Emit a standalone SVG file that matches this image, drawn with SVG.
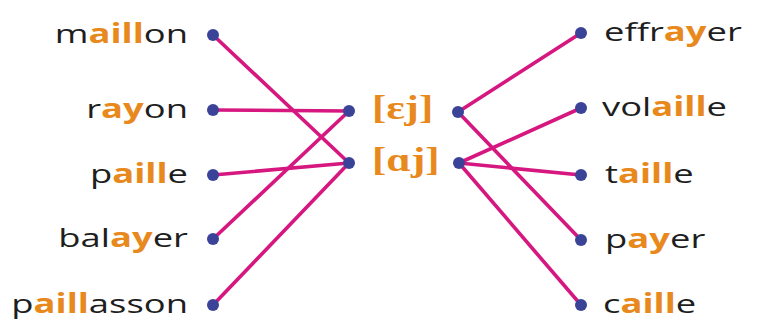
<svg xmlns="http://www.w3.org/2000/svg" width="757" height="327" viewBox="0 0 757 327">
<style>
.w{font-family:"Open Sans","Noto Sans",sans-serif;font-size:26px;fill:#1e1e1e}
.o{fill:#E8891E;font-weight:bold}
.l{text-anchor:end}
.p{font-family:"Liberation Serif","DejaVu Serif",serif;font-size:33px;font-weight:bold;fill:#E8891E}
.d{fill:#3B4398}
.c line{stroke:#D6177F;stroke-width:3.6;stroke-linecap:round}
</style>
<rect width="757" height="327" fill="#fff"/>
<g id="connectors" class="c">
<line x1="213" y1="35" x2="349" y2="163"/>
<line x1="213" y1="110" x2="349" y2="111"/>
<line x1="213" y1="175" x2="349" y2="163"/>
<line x1="213" y1="239" x2="349" y2="111"/>
<line x1="213" y1="305" x2="349" y2="163"/>
<line x1="458" y1="112" x2="581" y2="33"/>
<line x1="458" y1="112" x2="581" y2="240"/>
<line x1="459" y1="163" x2="581" y2="108"/>
<line x1="459" y1="163" x2="581" y2="175"/>
<line x1="459" y1="163" x2="581" y2="305"/>
</g>
<g id="maillon"><text class="w l" transform="translate(188,43) scale(1.4,1)">m<tspan class="o">aill</tspan>on</text><circle class="d" cx="213" cy="35" r="6"/></g>
<g id="rayon"><text class="w l" transform="translate(188,118) scale(1.4,1)">r<tspan class="o">ay</tspan>on</text><circle class="d" cx="213" cy="110" r="6"/></g>
<g id="paille"><text class="w l" transform="translate(188,183) scale(1.4,1)">p<tspan class="o">aill</tspan>e</text><circle class="d" cx="213" cy="175" r="6"/></g>
<g id="balayer"><text class="w l" transform="translate(188,247) scale(1.4,1)">bal<tspan class="o">ay</tspan>er</text><circle class="d" cx="213" cy="239" r="6"/></g>
<g id="paillasson"><text class="w l" transform="translate(188,313) scale(1.4,1)">p<tspan class="o">aill</tspan>asson</text><circle class="d" cx="213" cy="305" r="6"/></g>
<g id="ej"><circle class="d" cx="349" cy="111" r="6"/><text class="p" transform="translate(372,119) scale(1.3,1)">[ɛj]</text><circle class="d" cx="458" cy="112" r="6"/></g>
<g id="aj"><circle class="d" cx="349" cy="163" r="6"/><text class="p" transform="translate(372,171) scale(1.3,1)">[ɑj]</text><circle class="d" cx="459" cy="163" r="6"/></g>
<g id="effrayer"><circle class="d" cx="581" cy="33" r="6"/><text class="w" transform="translate(604,41) scale(1.4,1)">effr<tspan class="o">ay</tspan>er</text></g>
<g id="volaille"><circle class="d" cx="581" cy="108" r="6"/><text class="w" transform="translate(602,116) scale(1.4,1)">vol<tspan class="o">aill</tspan>e</text></g>
<g id="taille"><circle class="d" cx="581" cy="175" r="6"/><text class="w" transform="translate(605,183) scale(1.4,1)">t<tspan class="o">aill</tspan>e</text></g>
<g id="payer"><circle class="d" cx="581" cy="240" r="6"/><text class="w" transform="translate(605,248) scale(1.4,1)">p<tspan class="o">ay</tspan>er</text></g>
<g id="caille"><circle class="d" cx="581" cy="305" r="6"/><text class="w" transform="translate(603,313) scale(1.4,1)">c<tspan class="o">aill</tspan>e</text></g>
</svg>
